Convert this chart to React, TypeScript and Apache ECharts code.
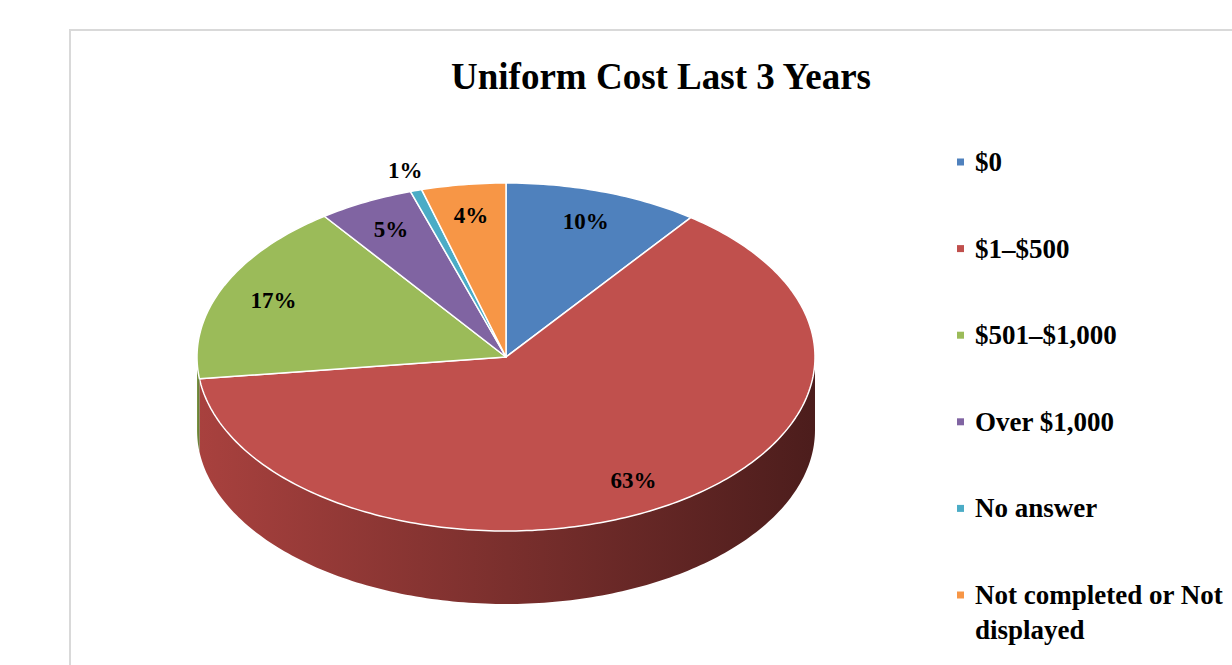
import React, { useEffect, useRef } from "react";
import * as echarts from "echarts";

const categories = ["$0", "$1–$500", "$501–$1,000", "Over $1,000", "No answer", "Not completed or Not displayed"];
const values = [10.2, 62.8, 17.0, 5.0, 0.6, 4.4];
const colors = ["#4F81BD", "#C0504D", "#9BBB59", "#8064A2", "#4BACC6", "#F79646"];
const sideColors = [
  ["#3E6796", "#2A4566"],
  ["#A8413E", "#4C1D1C"],
  ["#7E9A45", "#5E7333"],
  ["#654F82", "#44355A"],
  ["#3B8A9F", "#29606F"],
  ["#C87838", "#8A5226"],
];
const titleText = "Uniform Cost Last 3 Years";

const FONT = "'Liberation Serif', 'Times New Roman', serif";

export default function App() {
  const ref = useRef<HTMLDivElement>(null);
  useEffect(() => {
    if (!ref.current) return;
    const chart = echarts.init(ref.current, undefined, { renderer: "svg" });
    const total = values.reduce((a, b) => a + b, 0);
    const starts: number[] = [];
    let acc = 0;
    values.forEach((v) => {
      starts.push(acc);
      acc += v;
    });

    const cx = 506, cy = 357, rx = 309, ry = 174, depth = 73;
    const pt = (deg: number, dy = 0) => {
      const t = (deg * Math.PI) / 180;
      return [cx + rx * Math.sin(t), cy - ry * Math.cos(t) + dy];
    };
    const arcPts = (a: number, b: number, dy = 0) => {
      const pts: number[][] = [];
      const n = Math.max(2, Math.ceil(Math.abs(b - a) / 1));
      for (let i = 0; i <= n; i++) pts.push(pt(a + ((b - a) * i) / n, dy));
      return pts;
    };

    const series = categories.map((name, idx) => ({
      type: "custom",
      name,
      coordinateSystem: "none",
      itemStyle: { color: colors[idx] },
      data: [[values[idx]]],
      renderItem: (params: any, api: any) => {
        const v = api.value(0);
        const a = (starts[idx] / total) * 360;
        const b = a + (v / total) * 360;
        const children: any[] = [];
        // side wall (front half: 90..270)
        const sa = Math.max(a, 90);
        const sb = Math.min(b, 270);
        if (sb > sa) {
          const top = arcPts(sa, sb, 0);
          const bot = arcPts(sb, sa, depth);
          children.push({
            type: "polygon",
            shape: { points: top.concat(bot) },
            style: {
              fill: new echarts.graphic.LinearGradient(0, 0, 1, 0, [
                { offset: 0, color: sideColors[idx][0] },
                { offset: 1, color: sideColors[idx][1] },
              ]),
              stroke: null,
            },
          });
        }
        // top face
        children.push({
          type: "polygon",
          shape: { points: [[cx, cy]].concat(arcPts(a, b, 0)) },
          style: { fill: colors[idx], stroke: "#ffffff", lineWidth: 1.5, lineJoin: "round" },
        });
        // label
        const mid = (a + b) / 2;
        const pct = Math.round((v / total) * 100);
        const r = v / total < 0.01 ? 1.12 : 0.82;
        const t = (mid * Math.PI) / 180;
        children.push({
          type: "text",
          z2: 100,
          style: {
            text: pct + "%",
            x: cx + rx * r * Math.sin(t),
            y: cy - ry * r * Math.cos(t),
            fill: "#000000",
            fontSize: 23,
            fontWeight: "bold",
            fontFamily: FONT,
            align: "center",
            verticalAlign: "middle",
          },
        });
        return { type: "group", children };
      },
    }));

    const legendText = {
      fontSize: 27,
      fontWeight: "bold",
      fontFamily: FONT,
      color: "#000000",
      lineHeight: 35,
      padding: [0, 0, 0, 6],
    };

    chart.setOption({
      animation: false,
      backgroundColor: "#ffffff",
      title: {
        text: titleText,
        left: 661,
        top: 58,
        textAlign: "center",
        padding: 0,
        textStyle: { fontSize: 37, fontWeight: "bold", fontFamily: FONT, color: "#000000" },
      },
      legend: [
        {
          orient: "vertical",
          left: 957,
          top: 144.5,
          padding: 0,
          itemWidth: 7,
          itemHeight: 7,
          itemGap: 51.6,
          icon: "rect",
          selectedMode: false,
          data: categories.slice(0, 5),
          textStyle: legendText,
        },
        {
          orient: "vertical",
          left: 957,
          top: 542.5,
          padding: 0,
          itemWidth: 7,
          itemHeight: 7,
          icon: "rect",
          selectedMode: false,
          data: categories.slice(5),
          formatter: () => "\nNot completed or Not\ndisplayed",
          textStyle: legendText,
        },
      ],
      graphic: [
        {
          type: "rect",
          z: -10,
          shape: { x: 70, y: 30, width: 1400, height: 900 },
          style: { fill: "none", stroke: "#d9d9d9", lineWidth: 2 },
        },
      ],
      series,
    });
    return () => chart.dispose();
  }, []);
  return (
    <div style={{ position: "absolute", left: 0, top: 0, width: 1232, height: 665, background: "#fff" }}>
      <div ref={ref} style={{ width: 1232, height: 665 }} />
    </div>
  );
}
